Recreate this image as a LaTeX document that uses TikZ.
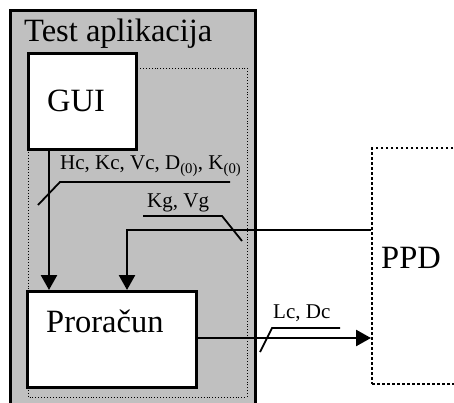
\documentclass[tikz,border=0pt]{standalone}
\usepackage{fontspec}
\setmainfont{Liberation Serif}
\usetikzlibrary{arrows.meta}
\definecolor{grayfill}{RGB}{192,192,192}
\begin{document}
\begin{tikzpicture}[x=1pt,y=-1pt,
  box/.style={draw,line width=3pt,fill=white,inner sep=0pt,anchor=north west},
  big/.style={font=\fontsize{32.5}{38}\selectfont,inner sep=0pt,anchor=base west},
  small/.style={font=\fontsize{21}{25}\selectfont,inner sep=0pt,anchor=base west},
  conn/.style={line width=2.6pt},
  arr/.style={conn,-{Triangle[length=15pt,width=16pt]}},
  tag/.style={line width=1.8pt}]
\useasboundingbox (0,0) rectangle (454,403);
\fill[white] (0,0) rectangle (454,403);
% outer application box
\draw[line width=3pt, fill=grayfill] (10,11) rectangle (255,420);
\node[big] (title) at (24,42) {Test aplikacija};
% inner dotted box
\draw[dotted, line width=0.9pt] (28,68) rectangle (247,397);
% PPD box
\node[draw, line width=2.4pt, dash pattern=on 2.4pt off 2.6pt, inner sep=0pt,
      minimum width=120pt, minimum height=236pt, anchor=north west] (ppd) at (371,147) {};
\node[big] (ppdtxt) at (381,268) {PPD};
% GUI and calculation boxes
\node[box, minimum width=108pt, minimum height=96pt] (gui) at (27,52) {};
\node[big] (guitxt) at (47,112) {GUI};
\node[box, minimum width=169pt, minimum height=96pt] (calc) at (26,290) {};
\node[big] (calctxt) at (46,332) {Proračun};
% connectors
\coordinate (c1) at (49,0);
\coordinate (c2) at (127,0);
\coordinate (kg) at (0,230);
\coordinate (lc) at (0,338);
\draw[arr] (gui.south -| c1) -- (calc.north -| c1);
\draw[arr] (ppd.west |- kg) -| (calc.north -| c2);
\draw[arr] (calc.east |- lc) -- (ppd.west |- lc);
% labels
\draw[tag] (230,182) -- (60,182) -- (38,205);
\node[small] (l1) at (60,170) {Hc, Kc, Vc, D\textsubscript{(0)}, K\textsubscript{(0)}};
\draw[tag] (143,216) -- (222,216) -- (242,241);
\node[small] (l2) at (147,207) {Kg, Vg};
\draw[tag] (340,328) -- (272,328) -- (260,352);
\node[small] (l3) at (273,318) {Lc, Dc};
\end{tikzpicture}
\end{document}
